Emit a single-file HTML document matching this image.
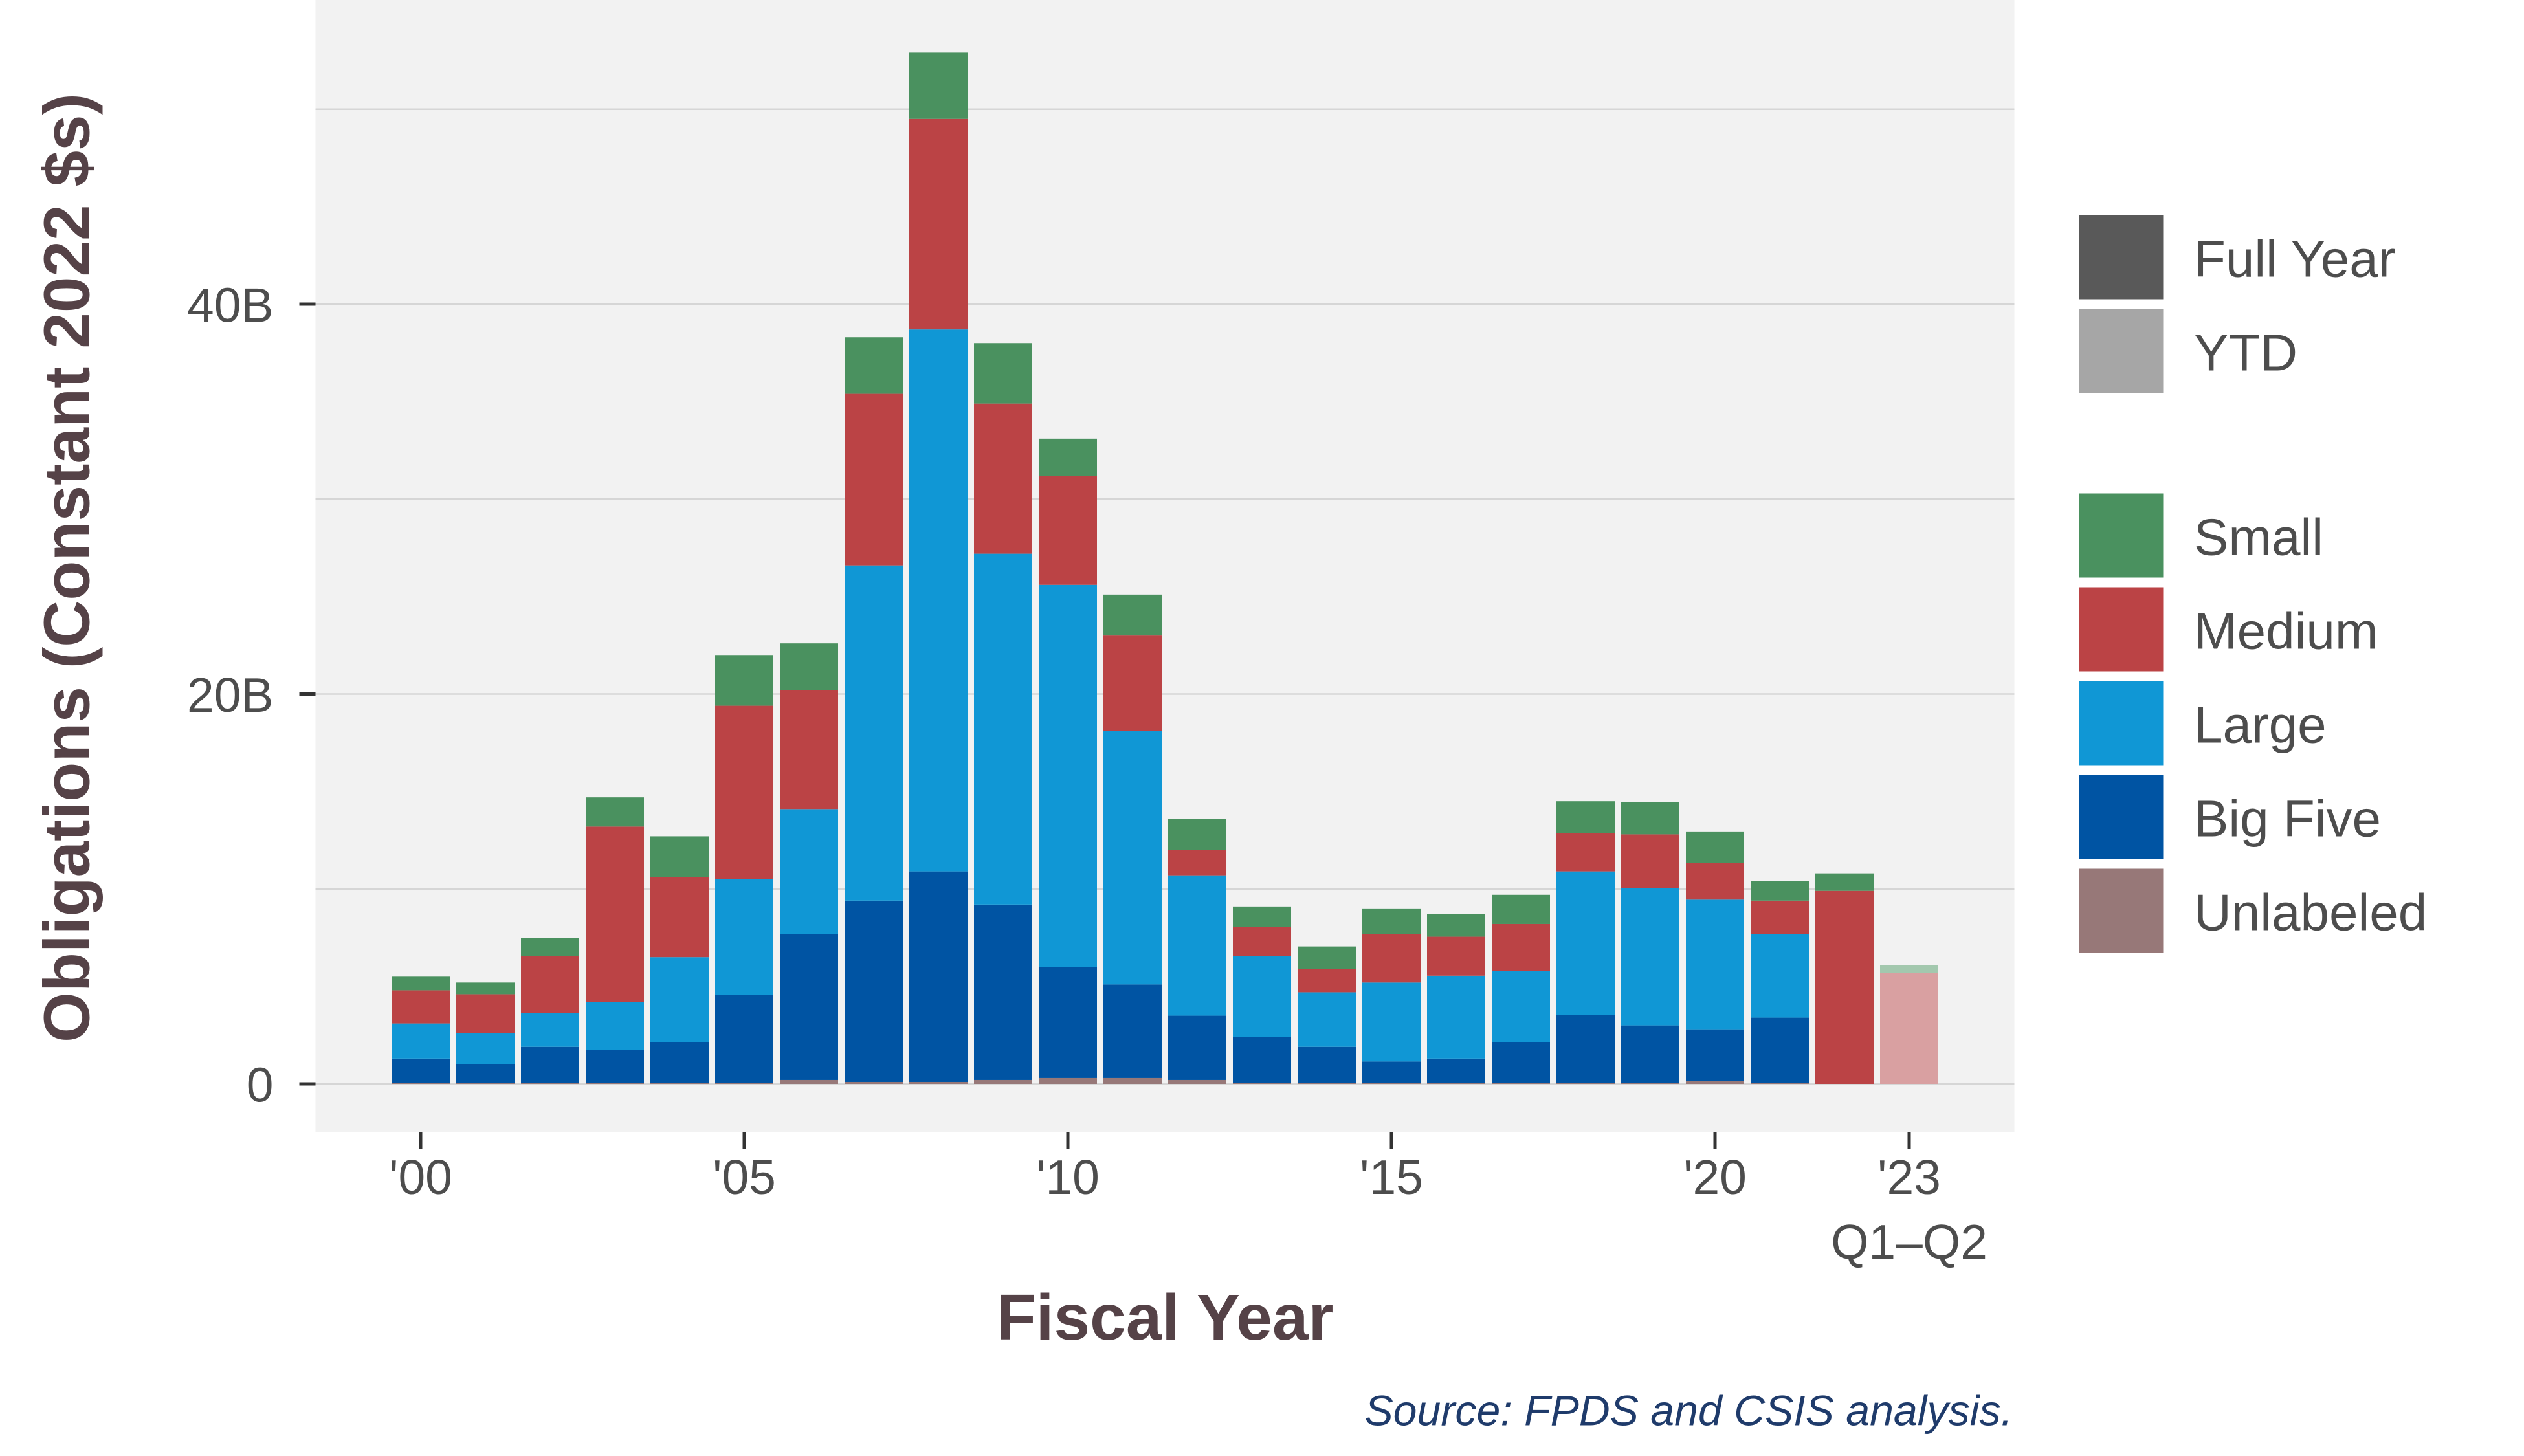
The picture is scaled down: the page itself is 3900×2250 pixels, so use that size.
<!DOCTYPE html>
<html><head><meta charset="utf-8"><style>
html,body{margin:0;padding:0;background:#fff}
svg{display:block;font-family:"Liberation Sans",sans-serif}
</style></head><body>
<svg id="chart" width="3900" height="2250" viewBox="0 0 1560 900" xmlns="http://www.w3.org/2000/svg">
<rect x="0" y="0" width="1560" height="900" fill="#fff"/>
<rect x="195" y="0" width="1050" height="700" fill="#f2f2f2"/>
<g id="grid"></g>
<g id="bars"></g>
<g id="axes"></g>
<text transform="translate(55,351) rotate(-90)" text-anchor="middle" font-size="40" font-weight="bold" fill="#554247">Obligations (Constant 2022 $s)</text>
<text x="720" y="828" text-anchor="middle" font-size="40" font-weight="bold" fill="#554247">Fiscal Year</text>
<text x="1244" y="881" text-anchor="end" font-size="26.5" font-style="italic" fill="#1f3b6b">Source: FPDS and CSIS analysis.</text>
<g id="legend"></g>
</svg>
<script>
const years = [2000,2001,2002,2003,2004,2005,2006,2007,2008,2009,2010,2011,2012,2013,2014,2015,2016,2017,2018,2019,2020,2021,2022,2023];
const unlabeled = [0.05,0.05,0.05,0.05,0.05,0.05,0.2,0.1,0.1,0.2,0.3,0.3,0.2,0.05,0.05,0.05,0.05,0.05,0.05,0.05,0.15,0.05,0,0];
const bigFive = [1.25,0.95,1.85,1.7,2.1,4.5,7.5,9.3,10.8,9.0,5.7,4.8,3.3,2.35,1.85,1.1,1.25,2.1,3.5,2.95,2.65,3.35,0,0];
const large = [1.8,1.6,1.75,2.45,4.35,5.95,6.4,17.2,27.8,18.0,19.6,13.0,7.2,4.15,2.8,4.05,4.25,3.65,7.35,7.05,6.65,4.3,0,0];
const medium = [1.7,2.0,2.9,9.0,4.1,8.9,6.1,8.8,10.8,7.7,5.6,4.9,1.3,1.5,1.2,2.5,2.0,2.4,1.95,2.75,1.9,1.7,9.9,5.7];
const small = [0.7,0.6,0.95,1.5,2.1,2.6,2.4,2.9,3.4,3.1,1.9,2.1,1.6,1.05,1.15,1.3,1.15,1.5,1.65,1.65,1.6,1.0,0.9,0.4];
const ytd = [false,false,false,false,false,false,false,false,false,false,false,false,false,false,false,false,false,false,false,false,false,false,false,true];
const yTicks = [0,20,40];
const yTickLabels = ["0","20B","40B"];
const yMinor = [10,30,50];
const xTickYears = [2000,2005,2010,2015,2020,2023];
const xTickLabels = ["'00","'05","'10","'15","'20","'23"];

const NS="http://www.w3.org/2000/svg";
const yScale = v => 670 - v*241/20;
const xScale = yr => 260 + (yr-2000)*40;
const barW = 36;
function mk(tag, attrs, parent){const e=document.createElementNS(NS,tag);for(const k in attrs)e.setAttribute(k,attrs[k]);parent.appendChild(e);return e;}

const grid=document.getElementById('grid');
yMinor.concat(yTicks).forEach(v=>{
  const l=mk('line',{x1:195,x2:1245,y1:yScale(v),y2:yScale(v),stroke:'#d6d6d6','stroke-width':1},grid);
  
  
});

const series=[
 {name:'unlabeled',vals:unlabeled,full:'#977878',light:'#c9b8b8'},
 {name:'big-five',vals:bigFive,full:'#0054a3',light:'#80a9d1'},
 {name:'large',vals:large,full:'#1097d5',light:'#88cbea'},
 {name:'medium',vals:medium,full:'#bb4345',light:'#d9a0a1'},
 {name:'small',vals:small,full:'#4a915f',light:'#a3c8ae'}];
const bars=document.getElementById('bars');
years.forEach((yr,i)=>{
  let base=0;
  series.forEach(s=>{
    const v=s.vals[i];
    if(v<=0) return;
    const y0=yScale(base), y1=yScale(base+v);
    const r=mk('rect',{x:xScale(yr)-barW/2,y:y1,width:barW,height:y0-y1,fill:ytd[i]?s.light:s.full},bars);
    
    
    base+=v;
  });
});

const axes=document.getElementById('axes');
yTicks.forEach((v,i)=>{
  mk('line',{x1:185,x2:195,y1:yScale(v),y2:yScale(v),stroke:'#333','stroke-width':2},axes);
  const t=mk('text',{x:169,y:yScale(v)+11,'text-anchor':'end','font-size':30,fill:'#4d4d4d'},axes);
  t.textContent=yTickLabels[i];
  
  
});
xTickYears.forEach((yr,i)=>{
  mk('line',{x1:xScale(yr),x2:xScale(yr),y1:700,y2:710,stroke:'#333','stroke-width':2},axes);
  const t=mk('text',{x:xScale(yr),y:738,'text-anchor':'middle','font-size':30,fill:'#4d4d4d'},axes);
  t.textContent=xTickLabels[i];
  
  
});
const q=mk('text',{x:xScale(2023),y:778,'text-anchor':'middle','font-size':30,fill:'#4d4d4d'},axes);
q.textContent='Q1–Q2';



const legend=document.getElementById('legend');
const legItems=[['Full Year','#595959',132],['YTD','#a6a6a6',190],['Small','#4a915f',304],['Medium','#bb4345',362],['Large','#1097d5',420],['Big Five','#0054a3',478],['Unlabeled','#977878',536]];
legItems.forEach(it=>{
  const r=mk('rect',{x:1284,y:it[2],width:54,height:54,fill:it[1],stroke:'#fff','stroke-width':2},legend);
  
  
  const t=mk('text',{x:1356,y:it[2]+39,'font-size':32,fill:'#4d4d4d'},legend);
  t.textContent=it[0];
  
  
});
</script>
</body></html>
